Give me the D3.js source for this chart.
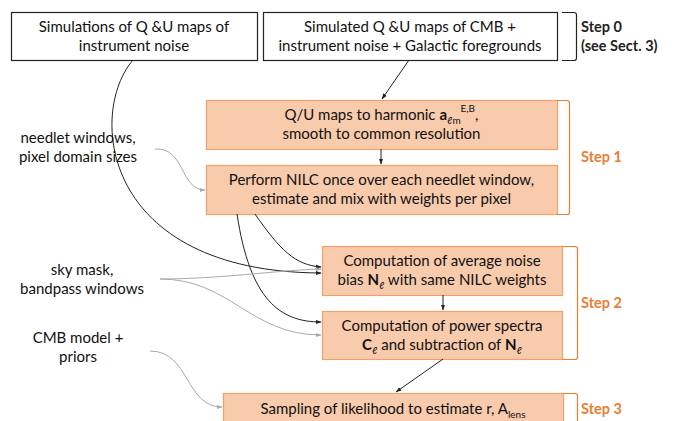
<!DOCTYPE html>
<html>
<head>
<meta charset="utf-8">
<script src="https://cdn.jsdelivr.net/npm/d3@7"></script>
<style>
body { margin: 0; background: #fff; }
svg { display: block; font-family: Lato, "Open Sans", sans-serif; }
</style>
</head>
<body>
<svg width="676" height="421"></svg>
<script>
var svg = d3.select('svg');

// box texts, each line is a list of [text, style] runs
var boxIds = ['noise', 'sim', 'harm', 'nilc', 'bias', 'spec', 'like'];
var boxLines = [
	[[['Simulations of Q &U maps of']], [['instrument noise']]],
	[[['Simulated Q &U maps of CMB +']], [['instrument noise + Galactic foregrounds']]],
	[[['Q/U maps to harmonic '], ['a', 'b'], ['ℓm', 'sub'], ['E,B', 'sup'], [',']], [['smooth to common resolution']]],
	[[['Perform NILC once over each needlet window,']], [['estimate and mix with weights per pixel']]],
	[[['Computation of average noise']], [['bias '], ['N', 'b'], ['ℓ', 'sub'], [' with same NILC weights']]],
	[[['Computation of power spectra']], [['C', 'b'], ['ℓ', 'sub'], [' and subtraction of '], ['N', 'b'], ['ℓ', 'sub']]],
	[[['Sampling of likelihood to estimate r, A'], ['lens', 'sub']]]
];
var boxKind = ['plain', 'plain', 'step', 'step', 'step', 'step', 'step'];

// layout of boxes in pixels [x0, y0, x1, y1]
var boxRect = [
	[11, 12, 257, 60],
	[263, 12, 557, 60],
	[206, 100, 557, 149],
	[206, 165, 557, 214],
	[322, 246, 562, 295],
	[322, 311, 562, 359],
	[223, 393, 563, 445]
];

var inputLabels = [
	['needlet windows,', 'pixel domain sizes'],
	['sky mask,', 'bandpass windows'],
	['CMB model +', 'priors']
];
var inputPos = [[78, 143], [82, 275], [78, 343]];

var stepNames = [['Step 0', '(see Sect. 3)'], ['Step 1'], ['Step 2'], ['Step 3']];
var stepSpan = [[12, 60], [100, 214], [246, 359], [393, 445]];
var stepX = [[562, 576], [557, 569], [562, 577], [563, 577]];

// connectors: path points, color
var links = [
	{ pts: [[409, 60], [382, 99]], curve: false, c: 'dark' },
	{ pts: [[381, 149], [381, 164]], curve: false, c: 'dark' },
	{ pts: [[443, 295], [443, 310]], curve: false, c: 'dark' },
	{ pts: [[443, 359], [396, 392]], curve: false, c: 'dark' },
	{ pts: [[133, 60], [88, 112], [100, 272], [321, 273]], curve: true, c: 'dark' },
	{ pts: [[255, 214], [280, 250], [295, 265], [321, 267]], curve: true, c: 'dark' },
	{ pts: [[237, 214], [250, 300], [280, 322], [321, 322]], curve: true, c: 'dark' },
	{ pts: [[155, 149], [185, 147], [180, 190], [205, 190]], curve: true, c: 'light' },
	{ pts: [[160, 279], [220, 279], [280, 270], [321, 269]], curve: true, c: 'light' },
	{ pts: [[160, 279], [230, 279], [250, 335], [321, 335]], curve: true, c: 'light' },
	{ pts: [[150, 351], [190, 351], [185, 407], [222, 407]], curve: true, c: 'light' }
];

var colors = { dark: '#222', light: '#aaa' };
var orange = '#ED7D31';

var defs = svg.append('defs');
Object.keys(colors).forEach(function(k) {
	defs.append('marker')
		.attr('id', 'arr-' + k)
		.attr('viewBox', '0 0 10 10')
		.attr('refX', 9).attr('refY', 5)
		.attr('markerWidth', 6).attr('markerHeight', 6)
		.attr('orient', 'auto')
		.append('path')
		.attr('d', 'M0,1.5L10,5L0,8.5Z')
		.attr('fill', colors[k]);
});

var boxG = svg.append('g');
boxIds.forEach(function(id, i) {
	var r = boxRect[i];
	var step = boxKind[i] === 'step';
	boxG.append('rect')
		.attr('x', r[0] + 0.5).attr('y', r[1] + 0.5)
		.attr('width', r[2] - r[0]).attr('height', r[3] - r[1])
		.attr('fill', step ? '#F8CBAD' : '#fff')
		.attr('stroke', step ? '#F4A06A' : '#222')
		.attr('stroke-width', 1.2);

	var lines = boxLines[i];
	var cx = (r[0] + r[2]) / 2;
	var y0 = lines.length === 2 ? r[1] + 20 : r[1] + 21;
	lines.forEach(function(runs, j) {
		var t = boxG.append('text')
			.attr('x', cx).attr('y', y0 + j * 19)
			.attr('text-anchor', 'middle')
			.attr('font-size', 15)
			.attr('fill', '#111');
		var prev = 0;
		runs.forEach(function(run) {
			var sp = t.append('tspan').text(run[0]);
			var shift = 0;
			if (run[1] === 'b') sp.attr('font-weight', 'bold');
			if (run[1] === 'sub') { sp.attr('font-size', 10); shift = 4; }
			if (run[1] === 'sup') { sp.attr('font-size', 10); shift = -8; }
			// dy is relative, so step back from the previous run's shift
			sp.attr('dy', shift - prev);
			prev = shift;
		});
	});
});

var linkG = svg.append('g').attr('fill', 'none');
var line = d3.line();
links.forEach(function(l) {
	var d;
	if (l.curve) {
		var p = l.pts;
		d = 'M' + p[0] + 'C' + p[1] + ' ' + p[2] + ' ' + p[3];
	} else {
		d = line(l.pts);
	}
	linkG.append('path')
		.attr('d', d)
		.attr('stroke', colors[l.c])
		.attr('stroke-width', 1)
		.attr('marker-end', 'url(#arr-' + l.c + ')');
});

var labelG = svg.append('g');
inputLabels.forEach(function(lines, i) {
	lines.forEach(function(s, j) {
		labelG.append('text')
			.attr('x', inputPos[i][0]).attr('y', inputPos[i][1] + j * 19)
			.attr('text-anchor', 'middle')
			.attr('font-size', 15)
			.attr('fill', '#111')
			.text(s);
	});
});

var stepG = svg.append('g');
stepNames.forEach(function(names, i) {
	var s = stepSpan[i], x = stepX[i];
	var col = i === 0 ? '#222' : orange;
	stepG.append('path')
		.attr('d', 'M' + x[0] + ',' + (s[0] + 0.5) + 'H' + (x[1] - 2) + 'Q' + (x[1] + 0.5) + ',' + (s[0] + 0.5) + ' ' + (x[1] + 0.5) + ',' + (s[0] + 3)
			+ 'V' + (s[1] - 2) + 'Q' + (x[1] + 0.5) + ',' + (s[1] + 0.5) + ' ' + (x[1] - 2) + ',' + (s[1] + 0.5) + 'H' + x[0])
		.attr('fill', 'none')
		.attr('stroke', col)
		.attr('stroke-width', 1.2);
	var cy = (s[0] + s[1]) / 2;
	if (i === 3) cy = 409;
	var ty = names.length === 2 ? cy - 4 : cy + 5;
	names.forEach(function(n, j) {
		stepG.append('text')
			.attr('x', 581).attr('y', ty + j * 19)
			.attr('font-size', 14.5)
			.attr('font-weight', 'bold')
			.attr('fill', col)
			.text(n);
	});
});
</script>
</body>
</html>
